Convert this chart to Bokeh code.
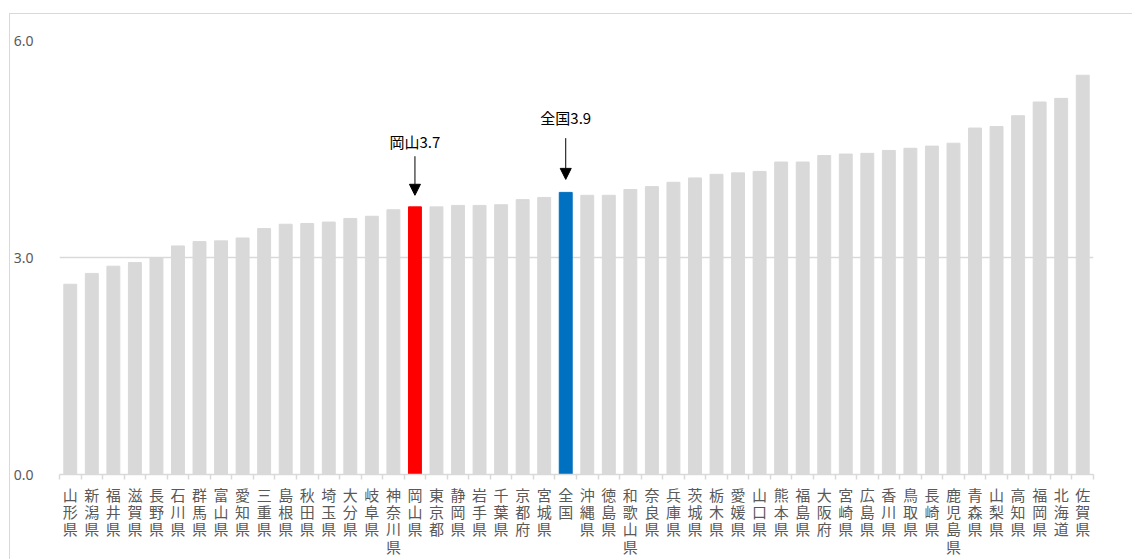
from bokeh.plotting import figure
from bokeh.layouts import column
from bokeh.models import FixedTicker, Arrow, NormalHead, Range1d, ColumnDataSource, Label
from bokeh.embed import file_html
from bokeh.resources import INLINE

# Prefectures sorted ascending, with the national figure in its place
prefectures = [
    "山形県", "新潟県", "福井県", "滋賀県", "長野県", "石川県", "群馬県", "富山県",
    "愛知県", "三重県", "島根県", "秋田県", "埼玉県", "大分県", "岐阜県", "神奈川県",
    "岡山県", "東京都", "静岡県", "岩手県", "千葉県", "京都府", "宮城県", "全国",
    "沖縄県", "徳島県", "和歌山県", "奈良県", "兵庫県", "茨城県", "栃木県", "愛媛県",
    "山口県", "熊本県", "福島県", "大阪府", "宮崎県", "広島県", "香川県", "鳥取県",
    "長崎県", "鹿児島県", "青森県", "山梨県", "高知県", "福岡県", "北海道", "佐賀県",
]
values = [
    2.63, 2.78, 2.88, 2.93, 3.00, 3.16, 3.22, 3.23,
    3.27, 3.40, 3.46, 3.47, 3.49, 3.54, 3.57, 3.66,
    3.70, 3.70, 3.72, 3.72, 3.73, 3.80, 3.83, 3.90,
    3.86, 3.86, 3.94, 3.98, 4.04, 4.10, 4.15, 4.17,
    4.19, 4.32, 4.32, 4.41, 4.43, 4.44, 4.48, 4.51,
    4.54, 4.58, 4.79, 4.81, 4.96, 5.15, 5.20, 5.52,
]
y_ticks = [0, 3, 6]
y_tick_labels = ["0.0", "3.0", "6.0"]

# Highlighted bars and their callouts: (name, short label, colour)
highlights = [("岡山県", "岡山", "#ff0000"), ("全国", "全国", "#0070c0")]

GREY = "#d9d9d9"
n = len(prefectures)
centers = [i + 0.5 for i in range(n)]
colors = [GREY] * n
for name, _, col in highlights:
    colors[prefectures.index(name)] = col

src = ColumnDataSource(dict(x=centers, top=values, color=colors))

p = figure(
    width=1122, height=545,
    x_range=Range1d(0, n), y_range=Range1d(0, 6),
    output_backend="svg", toolbar_location=None,
    min_border_left=45, min_border_right=39, min_border_top=26, min_border_bottom=85,
)
p.outline_line_color = None
p.background_fill_color = "white"
p.border_fill_color = "white"

p.vbar(x="x", top="top", width=0.6, bottom=0, color="color", source=src)

# Y axis: labels only, grid lines at the ticks
yax = p.yaxis[0]
yax.ticker = FixedTicker(ticks=y_ticks)
yax.major_label_overrides = {t: s for t, s in zip(y_ticks, y_tick_labels)}
yax.axis_line_color = None
yax.major_tick_line_color = None
yax.minor_tick_line_color = None
yax.major_label_standoff = 20
yax.major_label_text_color = "#595959"
yax.major_label_text_font = "Noto Sans"
yax.major_label_text_font_size = "14px"
p.ygrid.grid_line_color = GREY
p.ygrid.grid_line_width = 1.5
p.xgrid.grid_line_color = None

# X axis: vertical labels under each bar, small ticks between categories
xax = p.xaxis[0]
xax.ticker = FixedTicker(ticks=centers, minor_ticks=list(range(n + 1)))
xax.major_label_overrides = {c: "\n".join(name) for c, name in zip(centers, prefectures)}
xax.axis_line_color = GREY
xax.axis_line_width = 1.5
xax.major_tick_line_color = None
xax.minor_tick_line_color = GREY
xax.minor_tick_line_width = 1.5
xax.minor_tick_in = 0
xax.minor_tick_out = 5
xax.major_label_standoff = 3
xax.major_label_text_color = "#595959"
xax.major_label_text_font = "Noto Sans CJK JP"
xax.major_label_text_font_size = "15px"
xax.major_label_text_line_height = 0.83

# Callouts with arrows pointing at the highlighted bars
offsets = {"岡山県": (0.16, 0.70, 0.90), "全国": (0.18, 0.75, 1.03)}
for name, short, _ in highlights:
    i = prefectures.index(name)
    v = values[i]
    tip, start, lab = offsets[name]
    p.add_layout(Arrow(
        x_start=centers[i], y_start=v + start, x_end=centers[i], y_end=v + tip,
        line_color="black", line_width=1,
        end=NormalHead(size=11, fill_color="black", line_color="black"),
    ))
    p.add_layout(Label(
        x=centers[i], y=v + lab, text=f"{short}{v:.1f}",
        text_align="center", text_baseline="middle",
        text_font="Noto Sans CJK JP", text_font_size="15px", text_color="black",
    ))

# Chart area frame (top and left edges)
root = column(p)
root.margin = (13, 0, 0, 9)
root.styles = {"border-top": "1px solid #d9d9d9", "border-left": "1px solid #d9d9d9"}

open("out.html", "w").write(file_html(root, INLINE))
